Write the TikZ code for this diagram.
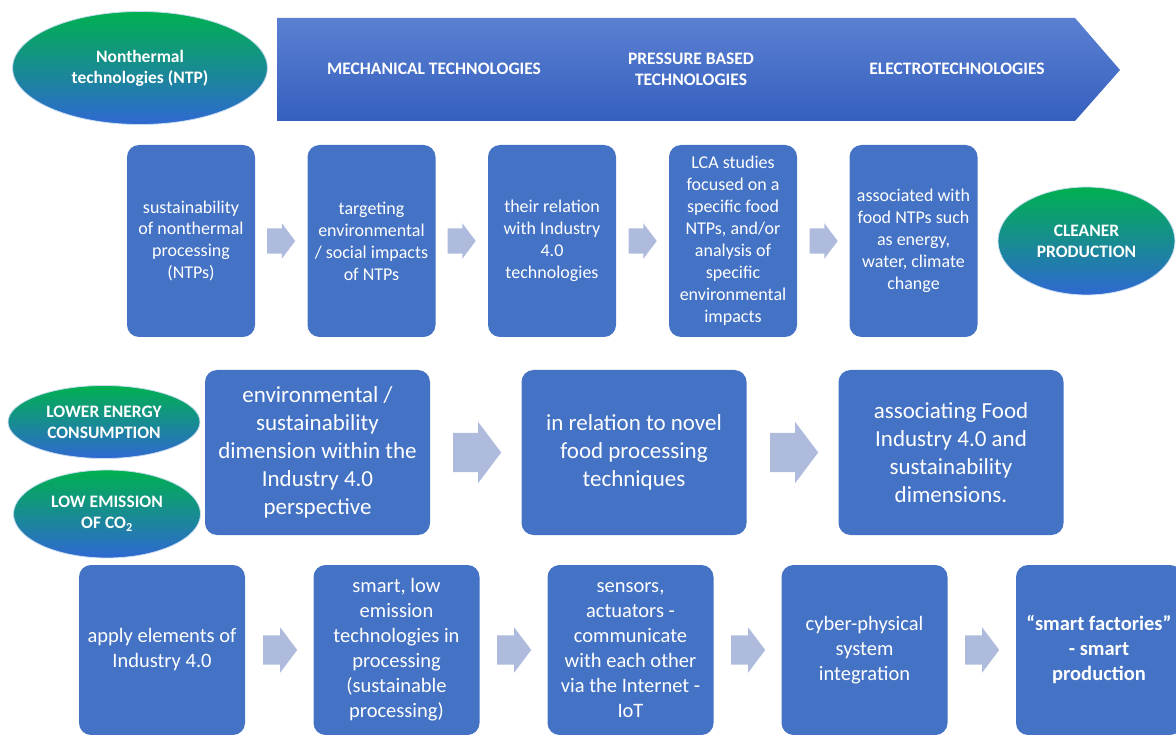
\documentclass[tikz,border=0pt]{standalone}
\usepackage{fontspec}
\setmainfont{Carlito}
\usepackage{xcolor}
\usepackage{tikz}
\usetikzlibrary{shapes,arrows,positioning}

\definecolor{boxblue}{HTML}{4472C4}
\definecolor{arrowblue}{HTML}{AFBBDD}
\definecolor{ntpgreen}{HTML}{00B050}
\definecolor{ntpblue}{HTML}{2F68D2}
\definecolor{rimblue}{HTML}{C9DDF2}
\definecolor{bannertop}{HTML}{5B80D2}
\definecolor{bannerbottom}{HTML}{3560BE}

\tikzset{
    stepbox/.style={
        rectangle,
        rounded corners=12pt,
        fill=boxblue,
        text=white,
        align=center,
        inner sep=0pt
    },
    toprow/.style={stepbox, minimum width=128pt, minimum height=192pt,
        font=\fontsize{18}{22}\selectfont},
    midrow/.style={stepbox, minimum width=225pt, minimum height=165pt,
        font=\fontsize{23}{28}\selectfont},
    lowrow/.style={stepbox, minimum width=166pt, minimum height=170pt,
        font=\fontsize{20.5}{25}\selectfont},
    goal/.style={
        ellipse,
        top color=ntpgreen,
        bottom color=ntpblue,
        draw=rimblue,
        line width=0.8pt,
        text=white,
        align=center,
        inner sep=0pt,
        font=\bfseries\fontsize{17.5}{21}\selectfont
    },
    bannertext/.style={text=white, align=center,
        font=\bfseries\fontsize{17.5}{21}\selectfont},
    blockarrow/.style={
        single arrow,
        fill=arrowblue,
        draw=none,
        inner sep=0pt,
        anchor=west,
        single arrow tip angle=106
    },
    smallarrow/.style={blockarrow, minimum height=28pt, inner ysep=12.5pt,
        single arrow head extend=5pt},
    bigarrow/.style={blockarrow, minimum height=48pt, inner ysep=19.5pt,
        single arrow head extend=11pt},
    lowarrow/.style={blockarrow, minimum height=34pt, inner ysep=14.5pt,
        single arrow head extend=8pt}
}

\begin{document}
\begin{tikzpicture}[x=1pt, y=-1pt]
                \useasboundingbox (0,0) rectangle (1176,735);

                % banner
                \path[
                    top color=bannertop,
                    bottom color=bannerbottom
                    ] (277,18) -- (1075,18) -- (1120,70) -- (1075,121) -- (277,121) -- cycle;

                \node[bannertext] (mech) at (434,69) {MECHANICAL TECHNOLOGIES};
                \node[bannertext] (press) at (691,69) {PRESSURE BASED\\TECHNOLOGIES};
                \node[bannertext] (electro) at (957,69) {ELECTROTECHNOLOGIES};

                \node[goal, minimum width=255pt, minimum height=113pt] (ntp) at (140,68)
                    {Nonthermal\\technologies (NTP)};

                % first row
                \node[toprow] (sust) at (191,241)
                    {sustainability\\of nonthermal\\processing\\(NTPs)};
                \node[toprow] (target) at (371.5,241)
                    {targeting\\environmental\\/ social impacts\\of NTPs};
                \node[toprow] (relation) at (552,241)
                    {their relation\\with Industry\\4.0\\technologies};
                \node[toprow] (lca) at (733,241)
                    {LCA studies\\focused on a\\specific food\\NTPs, and/or\\analysis of\\specific\\environmental\\impacts};
                \node[toprow] (assoc) at (913.5,241)
                    {associated with\\food NTPs such\\as energy,\\water, climate\\change};

                \node[smallarrow] (a1) at (267,241) {};
                \node[smallarrow] (a2) at (447.5,241) {};
                \node[smallarrow] (a3) at (628.5,241) {};
                \node[smallarrow] (a4) at (809.5,241) {};

                \node[goal, minimum width=177pt, minimum height=108pt] (cleaner) at (1086.5,241)
                    {CLEANER\\PRODUCTION};

                % second row
                \node[goal, minimum width=192pt, minimum height=73pt] (energy) at (104,422)
                    {LOWER ENERGY\\CONSUMPTION};
                \node[goal, minimum width=187pt, minimum height=88pt] (emission) at (107,514)
                    {LOW EMISSION\\OF CO\textsubscript{2}};

                \node[midrow] (dimension) at (317.5,452.5)
                    {environmental /\\sustainability\\dimension within the\\Industry 4.0\\perspective};
                \node[midrow] (novel) at (634,452.5)
                    {in relation to novel\\food processing\\techniques};
                \node[midrow] (food) at (951,452.5)
                    {associating Food\\Industry 4.0 and\\sustainability\\dimensions.};

                \node[bigarrow] (b1) at (453,452.5) {};
                \node[bigarrow] (b2) at (770,452.5) {};

                % third row
                \node[lowrow] (apply) at (162,650)
                    {apply elements of\\Industry 4.0};
                \node[lowrow] (smartlow) at (396.5,650)
                    {smart, low\\emission\\technologies in\\processing\\(sustainable\\processing)};
                \node[lowrow] (sensors) at (630.5,650)
                    {sensors,\\actuators -\\communicate\\with each other\\via the Internet -\\IoT};
                \node[lowrow] (cyber) at (864.5,650)
                    {cyber-physical\\system\\integration};
                \node[lowrow, font=\bfseries\fontsize{20.5}{25}\selectfont] (factories) at (1099,650)
                    {“smart factories”\\- smart\\production};

                \node[lowarrow] (c1) at (263,650) {};
                \node[lowarrow] (c2) at (497,650) {};
                \node[lowarrow] (c3) at (731,650) {};
                \node[lowarrow] (c4) at (965,650) {};

\end{tikzpicture}
\end{document}
